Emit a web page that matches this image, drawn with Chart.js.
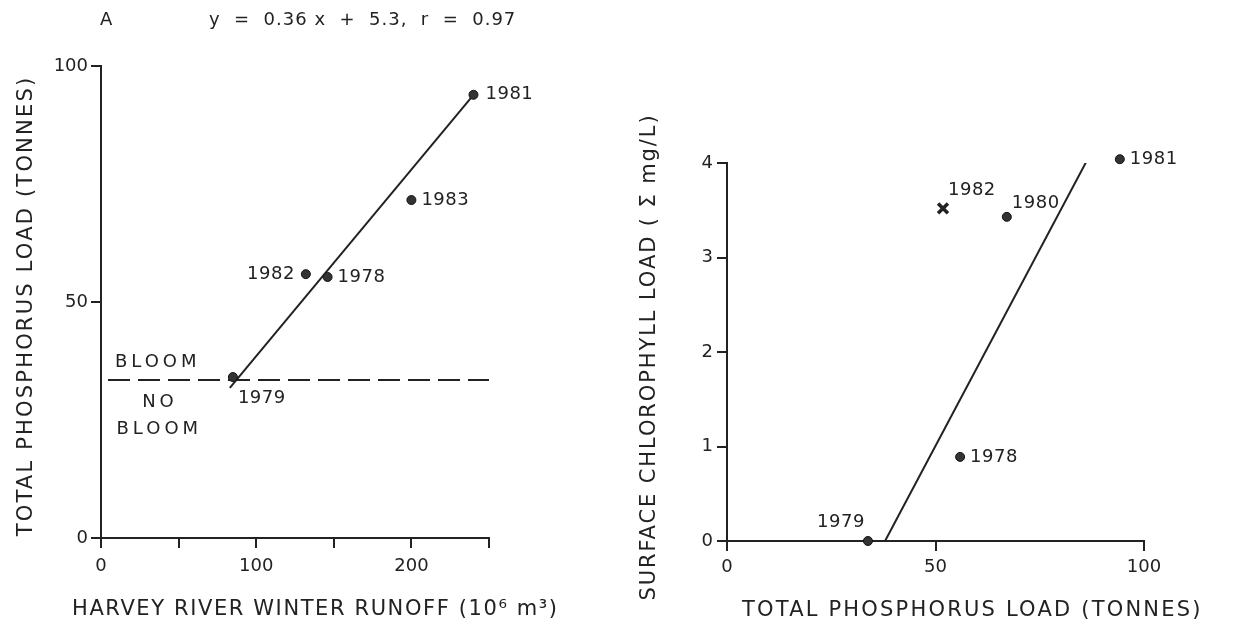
<!DOCTYPE html>
<html lang="en">
<head>
<meta charset="UTF-8">
<title>Harvey River phosphorus load and blooms</title>
<script src="https://cdn.jsdelivr.net/npm/chart.js"></script>
<style>
    body { margin: 0; background: #fff; }
    .wrap { position: relative; width: 1254px; height: 629px; }
    canvas { position: absolute; left: 0; top: 0; }
</style>
</head>
<body>
<div class="wrap">
    <canvas id="runoffChart" width="1254" height="629"></canvas>
    <canvas id="chlChart" width="1254" height="629"></canvas>
</div>
<script>
// --- panel A: winter runoff vs total phosphorus load
const runoffYears = ['1978', '1979', '1981', '1982', '1983'];
const runoffValues = [146, 85, 240, 132, 200];      // 10^6 m3
const phosLoadA = [55.3, 34.1, 93.9, 55.9, 71.6];   // tonnes
const fitLineA = [{x: 83, y: 31.8}, {x: 240, y: 93.9}];
const bloomLevel = 33.5;
const bloomLineX = [4.5, 250];
const runoffTickLabels = [0, 100, 200];

// --- panel B: phosphorus load vs surface chlorophyll
const chlYears = ['1978', '1979', '1980', '1981'];
const phosLoadB = [55.9, 33.8, 67.1, 94.2];
const chlValues = [0.89, 0, 3.43, 4.04];
const outlierYear = '1982';
const outlierPoint = {x: 51.8, y: 3.52};
const fitLineB = [{x: 37.9, y: 0}, {x: 86.6, y: 4.05}];

const INK = '#222';
Chart.defaults.font.family = '"DejaVu Sans", sans-serif';
Chart.defaults.font.size = 18;
Chart.defaults.color = INK;

// label offsets (pixels) per year, kept apart from the data
const offsetsA = {
    '1978': {dx: 10, dy: 0, align: 'left'},
    '1979': {dx: 5, dy: 21, align: 'left'},
    '1981': {dx: 12, dy: 0, align: 'left'},
    '1982': {dx: -11, dy: 0, align: 'right'},
    '1983': {dx: 10, dy: 0, align: 'left'}
};
const offsetsB = {
    '1978': {dx: 10, dy: 0, align: 'left'},
    '1979': {dx: -27, dy: -19, align: 'center'},
    '1980': {dx: 5, dy: -14, align: 'left'},
    '1981': {dx: 10, dy: 0, align: 'left'},
    '1982': {dx: 5, dy: -18, align: 'left'}
};

// draws year labels next to points and free text (in data or page coords)
const textPlugin = {
    id: 'textPlugin',
    afterDatasetsDraw(chart, args, opts) {
        const ctx = chart.ctx;
        const xs = chart.scales.x, ys = chart.scales.y;
        ctx.save();
        ctx.fillStyle = INK;
        ctx.textBaseline = 'middle';
        (opts.items || []).forEach(it => {
            ctx.font = (it.size || 18) + 'px "DejaVu Sans", sans-serif';
            ctx.letterSpacing = (it.ls || 0) + 'px';
            let px = it.px, py = it.py;
            if (it.x !== undefined) {
                px = xs.getPixelForValue(it.x) + (it.dx || 0);
                py = ys.getPixelForValue(it.y) + (it.dy || 0);
            }
            ctx.save();
            ctx.translate(px, py);
            if (it.rotate) ctx.rotate(it.rotate);
            ctx.textAlign = it.align || 'left';
            ctx.fillText(it.text, 0, 0);
            ctx.restore();
        });
        ctx.restore();
    }
};

function yearItems(years, xs, ys, offsets) {
    return years.map((yr, i) => Object.assign({text: yr, x: xs[i], y: ys[i], ls: 0.5}, offsets[yr]));
}

function axisOpts(min, max, step, fitFn, tickPad, cb) {
    return {
        type: 'linear', min: min, max: max,
        ticks: {stepSize: step, padding: tickPad, color: INK, font: {size: 18}, callback: cb},
        grid: {drawOnChartArea: false, drawTicks: true, tickLength: 10, color: INK, lineWidth: 2},
        border: {display: true, color: INK, width: 2},
        afterFit: fitFn
    };
}

// panel A
const itemsA = yearItems(runoffYears, runoffValues, phosLoadA, offsetsA).concat([
    {text: 'BLOOM', x: 9, y: 37.3, ls: 4},
    {text: 'NO', x: 38, y: 28.8, ls: 4, align: 'center'},
    {text: 'BLOOM', x: 10, y: 23.1, ls: 4},
    {text: 'A', px: 100, py: 20},
    {text: 'y  =  0.36 x  +  5.3,  r  =  0.97', px: 209, py: 20, ls: 1},
    {text: 'HARVEY RIVER WINTER RUNOFF (10\u2076 m\u00b3)', px: 72, py: 610, size: 21, ls: 1.6},
    {text: 'TOTAL PHOSPHORUS LOAD (TONNES)', px: 27, py: 306, size: 21, ls: 2.2, align: 'center', rotate: -Math.PI / 2}
]);

new Chart(document.getElementById('runoffChart'), {
    type: 'scatter',
    data: {
        datasets: [{
            data: runoffValues.map((v, i) => ({x: v, y: phosLoadA[i]})),
            pointRadius: 4.5, backgroundColor: '#333', borderColor: '#111', borderWidth: 1, clip: false
        }, {
            data: fitLineA, showLine: true, pointRadius: 0, borderColor: INK, borderWidth: 2
        }, {
            data: bloomLineX.map(x => ({x: x, y: bloomLevel})),
            showLine: true, pointRadius: 0, borderColor: INK, borderWidth: 2, borderDash: [22, 8]
        }]
    },
    options: {
        responsive: false, animation: false,
        layout: {padding: {left: 0, top: 66, right: 765, bottom: 0}},
        plugins: {legend: {display: false}, tooltip: {enabled: false}, textPlugin: {items: itemsA}},
        scales: {
            x: axisOpts(0, 250, 50, s => { s.height = 91; }, 8,
                v => runoffTickLabels.includes(v) ? String(v) : ''),
            y: axisOpts(0, 100, 50, s => { s.width = 101; }, 3)
        }
    },
    plugins: [textPlugin]
});

// panel B
const itemsB = yearItems(chlYears, phosLoadB, chlValues, offsetsB).concat([
    Object.assign({text: outlierYear, x: outlierPoint.x, y: outlierPoint.y, ls: 0.5}, offsetsB[outlierYear]),
    {text: 'TOTAL PHOSPHORUS LOAD (TONNES)', px: 742, py: 611, size: 21, ls: 2.2},
    {text: 'SURFACE CHLOROPHYLL LOAD ( \u03a3 mg/L)', px: 650, py: 357, size: 21, ls: 1.9, align: 'center', rotate: -Math.PI / 2}
]);

new Chart(document.getElementById('chlChart'), {
    type: 'scatter',
    data: {
        datasets: [{
            data: phosLoadB.map((v, i) => ({x: v, y: chlValues[i]})),
            pointRadius: 4.5, backgroundColor: '#333', borderColor: '#111', borderWidth: 1, clip: false
        }, {
            data: [outlierPoint], pointStyle: 'crossRot', pointRadius: 7,
            borderColor: INK, borderWidth: 3.5, clip: false
        }, {
            data: fitLineB, showLine: true, pointRadius: 0, borderColor: INK, borderWidth: 2
        }]
    },
    options: {
        responsive: false, animation: false,
        layout: {padding: {left: 627, top: 163, right: 110, bottom: 0}},
        plugins: {legend: {display: false}, tooltip: {enabled: false}, textPlugin: {items: itemsB}},
        scales: {
            x: axisOpts(0, 100, 50, s => { s.height = 88; }, 6),
            y: axisOpts(0, 4, 1, s => { s.width = 100; }, 4)
        }
    },
    plugins: [textPlugin]
});
</script>
</body>
</html>
